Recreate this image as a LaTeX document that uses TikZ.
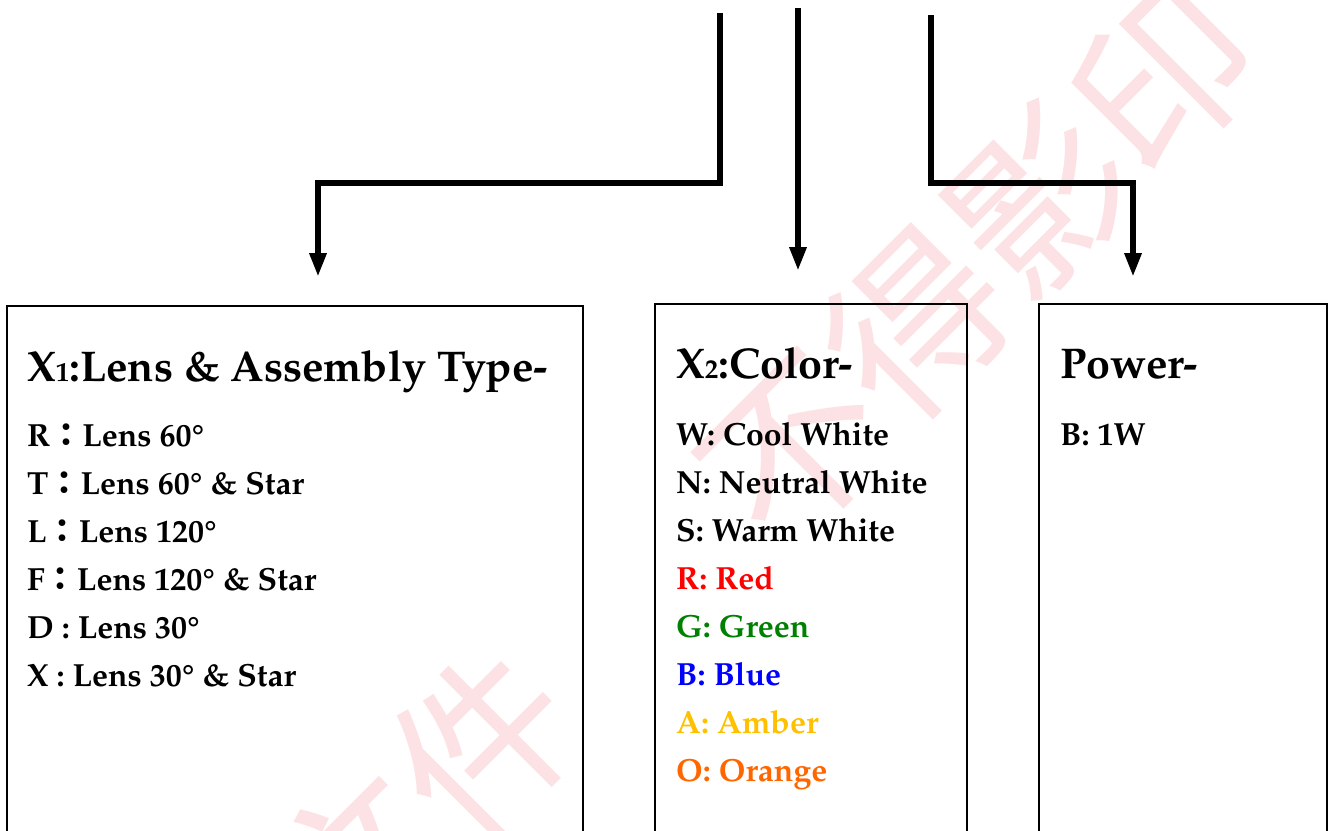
\documentclass[tikz,border=0pt]{standalone}
\usepackage[T1]{fontenc}
\usepackage{fontspec}
\usepackage{tikz}
\usetikzlibrary{arrows.meta}
\newfontfamily\cjkfont{Noto Sans CJK TC}
\newfontfamily\wmfont{Noto Sans CJK SC}
\newcommand\pala{\fontencoding{T1}\fontfamily{ppl}\fontseries{b}\selectfont}
\newcommand\fwcolon{{\cjkfont ：}}
\definecolor{amber}{RGB}{255,192,0}
\definecolor{orangeled}{RGB}{255,102,0}
\definecolor{greenled}{RGB}{0,128,0}
\definecolor{wmpink}{RGB}{252,226,228}

\begin{document}
\begin{tikzpicture}[x=1pt,y=-1pt,
    lead/.style={line width=6.5pt, line join=miter},
    leadarrow/.style={lead, -{Triangle[width=16pt,length=24pt]}},
    panel/.style={draw, line width=1.6pt},
    head/.style={anchor=base west, inner sep=0pt, font=\pala\fontsize{43}{50}\selectfont},
    entry/.style={anchor=base west, inner sep=0pt, font=\pala\fontsize{32}{38}\selectfont},
    wmtext/.style={text=wmpink, rotate=45, inner sep=0pt, font=\wmfont\fontsize{175}{180}\selectfont}]

    % Frame
    \useasboundingbox (0,0) rectangle (1330,830);
    \clip (0,0) rectangle (1330,830);

    % Watermark
    \node[wmtext] (wmleft) at (420,805) {文件};
    \node[wmtext] (wmright) at (978,262) {不得影印};

    % Panels (cut off at the bottom)
    \draw[panel] (7,306) rectangle (583,900);
    \draw[panel] (655,304) rectangle (967,900);
    \draw[panel] (1039,304) rectangle (1327,900);

    % Connector ends
    \coordinate (lenstop) at (720,13);
    \coordinate (lenscorner) at (720,183);
    \coordinate (lensend) at (318,277);
    \coordinate (colortop) at (798,8);
    \coordinate (colorend) at (798,271);
    \coordinate (powertop) at (931,15);
    \coordinate (powercorner) at (931,183);
    \coordinate (powerend) at (1133,277);

    % Connectors
    \draw[leadarrow] (lenstop) -- (lenscorner) -| (lensend);
    \draw[leadarrow] (colortop) -- (colorend);
    \draw[leadarrow] (powertop) -- (powercorner) -| (powerend);

    % Lens & assembly type
    \node[head] (lenshead) at (27,381) {X{\fontsize{27}{30}\selectfont 1}:Lens \& Assembly Type-};
    \foreach \txt [count=\i] in {R\fwcolon Lens 60\textdegree,
                                 T\fwcolon Lens 60\textdegree{} \& Star,
                                 L\fwcolon Lens 120\textdegree,
                                 F\fwcolon Lens 120\textdegree{} \& Star,
                                 D : Lens 30\textdegree,
                                 X : Lens 30\textdegree{} \& Star} {
        \node[entry] (lens\i) at (27,398+48*\i) {\txt};
    }

    % Color
    \node[head] (colorhead) at (676,378) {X{\fontsize{27}{30}\selectfont 2}:Color-};
    \foreach \txt/\col [count=\i] in {W: Cool White/black,
                                      N: Neutral White/black,
                                      S: Warm White/black,
                                      R: Red/red,
                                      G: Green/greenled,
                                      B: Blue/blue,
                                      A: Amber/amber,
                                      O: Orange/orangeled} {
        \node[entry, text=\col] (color\i) at (676,397+48*\i) {\txt};
    }

    % Power
    \node[head] (powerhead) at (1060,378) {Power-};
    \node[entry] (power1) at (1060,445) {B: 1W};

\end{tikzpicture}
\end{document}
